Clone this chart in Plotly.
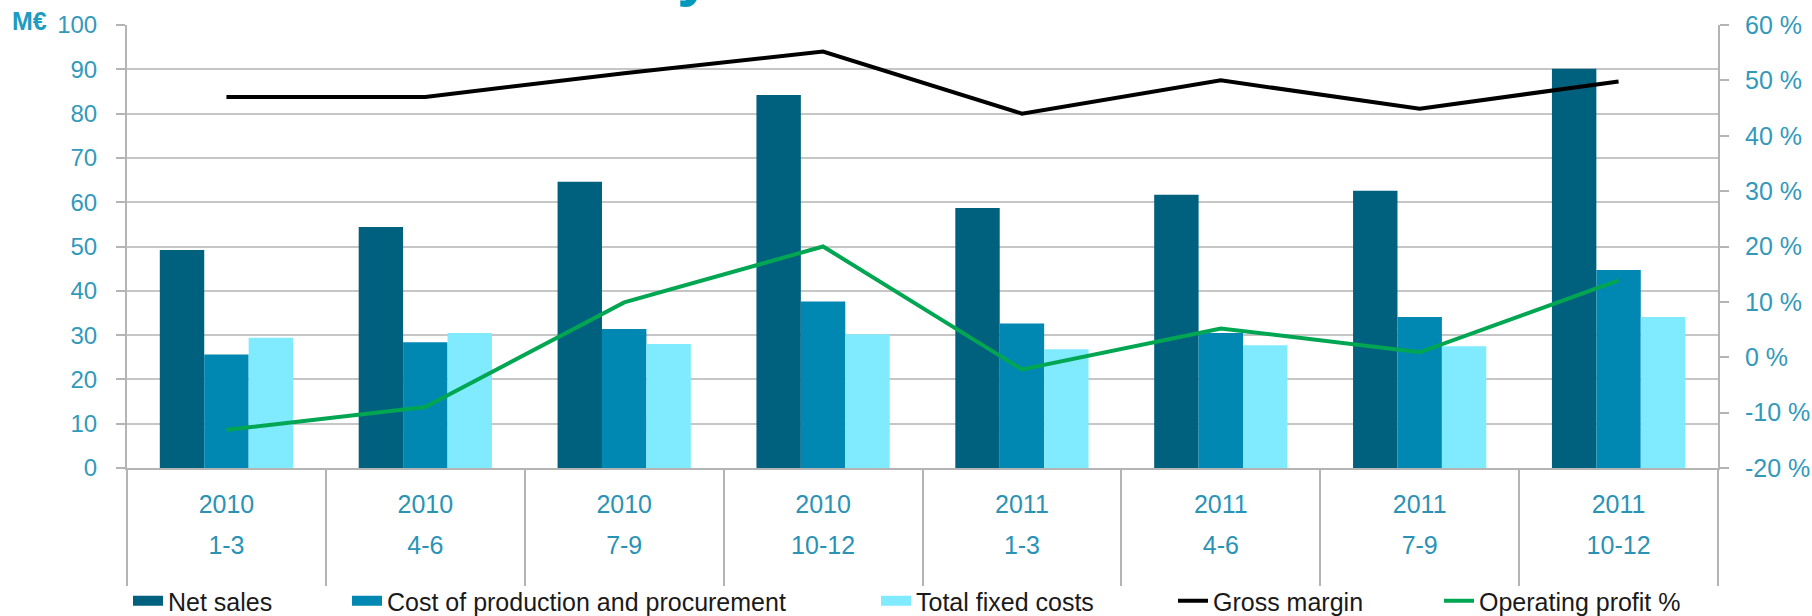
import plotly.graph_objects as go

years = ["2010", "2010", "2010", "2010", "2011", "2011", "2011", "2011"]
quarters = ["1-3", "4-6", "7-9", "10-12", "1-3", "4-6", "7-9", "10-12"]
categories = [f"{y} {q}" for y, q in zip(years, quarters)]

net_sales = [49.2, 54.4, 64.6, 84.2, 58.7, 61.7, 62.6, 90.1]
cost_production = [25.6, 28.4, 31.4, 37.6, 32.6, 30.5, 34.1, 44.7]
fixed_costs = [29.4, 30.5, 28.0, 30.2, 26.8, 27.7, 27.5, 34.1]
gross_margin = [47.0, 47.0, 51.3, 55.2, 44.0, 50.0, 44.9, 49.8]
operating_profit = [-13.1, -9.0, 9.9, 20.0, -2.2, 5.2, 0.9, 13.9]

series_names = ["Net sales", "Cost of production and procurement", "Total fixed costs",
                "Gross margin", "Operating profit %"]
series_colors = ["#00617f", "#0088b2", "#80eaff", "#000000", "#00a651"]

left_ticks = list(range(0, 101, 10))
right_ticks = list(range(-20, 61, 10))
right_ticktext = [f"{v} %" for v in right_ticks]

FONT = "Liberation Sans, Arial, sans-serif"
TICK_COLOR = "#3399bb"
CAT_COLOR = "#2a93b5"
GRID = "#c6c6c6"
AXIS = "#b4b4b4"

# plot area in pixels
W, H = 1812, 616
L, R, T, B = 127, 1718, 25, 468
PW, PH = R - L, B - T


def px_x(px):
    return (px - L) / PW


def px_y(py):
    return (B - py) / PH


fig = go.Figure()
bar_values = [net_sales, cost_production, fixed_costs]
for i, vals in enumerate(bar_values):
    fig.add_trace(go.Bar(name=series_names[i], x=categories, y=vals, showlegend=False,
                         marker=dict(color=series_colors[i], line=dict(width=0))))
fig.add_trace(go.Scatter(name=series_names[3], x=categories, y=gross_margin, yaxis="y2",
                         showlegend=False, mode="lines",
                         line=dict(color=series_colors[3], width=4)))
fig.add_trace(go.Scatter(name=series_names[4], x=categories, y=operating_profit, yaxis="y2",
                         showlegend=False, mode="lines",
                         line=dict(color=series_colors[4], width=4)))

# legend entries (wide swatches for the bars, lines for the line series)
for i, name in enumerate(series_names):
    key = "legend" if i == 0 else f"legend{i + 1}"
    fig.add_trace(go.Scatter(name=name, x=[None], y=[None], mode="lines", legend=key,
                             hoverinfo="skip",
                             line=dict(color=series_colors[i], width=16 if i < 3 else 4)))

# carrier for the quarter label axis
fig.add_trace(go.Scatter(x=list(range(len(quarters))), y=[None] * len(quarters),
                         xaxis="x2", yaxis="y", showlegend=False, hoverinfo="skip",
                         mode="markers"))

legend_text_start = [168, 387, 916, 1213, 1479]
legend_common = dict(orientation="h", xanchor="left", yanchor="middle", y=px_y(601),
                     font=dict(size=25, color="#1a1a1a", family=FONT),
                     bgcolor="rgba(0,0,0,0)", borderwidth=0, itemwidth=30)
legends = {}
for i, xs in enumerate(legend_text_start):
    key = "legend" if i == 0 else f"legend{i + 1}"
    legends[key] = dict(legend_common, x=px_x(xs - 40))

fig.update_layout(
    width=W, height=H,
    margin=dict(l=L, r=W - R, t=T, b=H - B, autoexpand=False),
    paper_bgcolor="white", plot_bgcolor="white",
    font=dict(family=FONT, color=TICK_COLOR),
    barmode="group", bargap=0.33, bargroupgap=0,
    showlegend=True,
    xaxis=dict(type="category", categoryorder="array", categoryarray=categories,
               range=[-0.5, 7.5], automargin=False,
               tickmode="array", tickvals=categories, ticktext=years,
               tickson="boundaries", ticks="outside", ticklen=116, tickwidth=2,
               tickcolor=AXIS, showline=True, linecolor=AXIS, linewidth=2,
               showgrid=False, zeroline=False,
               tickfont=dict(size=25, color=CAT_COLOR, family=FONT),
               ticklabelstandoff=13),
    xaxis2=dict(overlaying="x", anchor="y", side="bottom", type="linear",
                range=[-0.5, 7.5], tickmode="array", automargin=False,
                tickvals=list(range(len(quarters))), ticktext=quarters,
                ticks="", showline=False, showgrid=False, zeroline=False,
                tickfont=dict(size=25, color=CAT_COLOR, family=FONT),
                ticklabelstandoff=60),
    yaxis=dict(range=[0, 100], tickmode="array", tickvals=left_ticks, automargin=False,
               showgrid=True, gridcolor=GRID, gridwidth=2,
               showline=True, linecolor=AXIS, linewidth=2,
               ticks="outside", ticklen=9, tickwidth=2, tickcolor=AXIS,
               zeroline=False,
               tickfont=dict(size=24, color=TICK_COLOR, family=FONT),
               ticklabelstandoff=14),
    yaxis2=dict(overlaying="y", side="right", range=[-20, 60], automargin=False,
                tickmode="array", tickvals=right_ticks, ticktext=right_ticktext,
                showgrid=False, zeroline=False,
                showline=True, linecolor=AXIS, linewidth=2,
                ticks="outside", ticklen=9, tickwidth=2, tickcolor=AXIS,
                tickfont=dict(size=25, color=TICK_COLOR, family=FONT),
                ticklabelstandoff=11),
    **legends,
)

fig.add_annotation(text="<b>M€</b>", xref="paper", yref="paper",
                   x=px_x(29), y=px_y(21), xanchor="center", yanchor="middle",
                   showarrow=False, font=dict(size=25, color="#1e9bc0", family=FONT))
# tail of the cut-off title text above the chart
fig.add_annotation(text="<b>y</b>", xref="paper", yref="paper",
                   x=px_x(695), y=px_y(10), xanchor="center", yanchor="bottom",
                   showarrow=False, font=dict(size=64, color="#0099bb", family=FONT))

fig.write_html("out.html", config={"displayModeBar": False},
               post_script="document.body.style.margin='0';document.body.style.overflow='hidden';")
